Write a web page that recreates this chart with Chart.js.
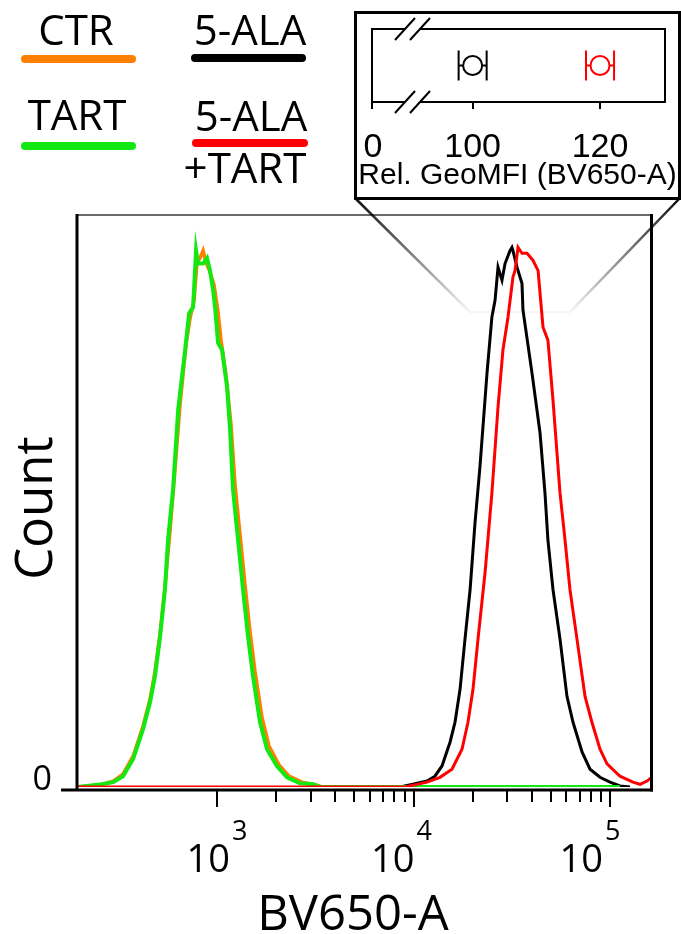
<!DOCTYPE html>
<html>
<head>
<meta charset="utf-8">
<script src="https://cdn.jsdelivr.net/npm/chart.js@4.4.0/dist/chart.umd.min.js"></script>
<style>
  body { margin: 0; background: #fff; }
  #wrap { position: relative; width: 681px; height: 934px; }
  #inset { position: absolute; left: 354px; top: 11px; width: 321px; height: 183px; border: 3px solid #000; background: #fff; }
  canvas { display: block; }
</style>
</head>
<body>
<div id="wrap">
  <canvas id="histChart" width="681" height="934"></canvas>
  <div id="inset"><canvas id="insetChart" width="321" height="183"></canvas></div>
</div>
<script>
// BV650-A intensity (x) and count, % of mode (y)
const ctrX = [196, 254, 296, 332, 374, 420, 456, 483, 513, 543, 577, 611, 648, 695, 729, 764, 791, 819, 849, 879,
  921, 966, 1012, 1048, 1111, 1178, 1235, 1309, 1388, 1472, 1561, 1694, 1839, 2068, 2324, 2708, 3190, 3421, 112000];
const ctrCount = [0, 0.4, 1.1, 2.4, 5.7, 11.3, 16.3, 21.4, 28.5, 37.0, 47.7, 58.8, 70.8, 81.9, 86.9, 90.2, 97.2, 98.0, 99.4, 97.2,
  95.4, 93.0, 88.0, 82.8, 76.3, 67.1, 56.0, 46.8, 37.5, 28.8, 21.4, 12.9, 7.6, 4.1, 2.0, 0.9, 0.4, 0, 0];

const tartX = [196, 260, 296, 332, 374, 420, 456, 483, 513, 543, 563, 597, 634, 688, 721, 755, 782, 800, 849, 889,
  921, 955, 977, 1012, 1060, 1125, 1165, 1206, 1279, 1356, 1438, 1525, 1655, 1796, 2019, 2271, 2644, 3081, 3343, 112000];
const tartCount = [0, 0.5, 0.9, 2.0, 5.2, 10.7, 15.7, 20.5, 27.9, 36.6, 45.8, 55.1, 69.9, 81.0, 87.8, 88.9, 99.4, 97.0, 97.0, 98.0,
  95.7, 92.1, 88.9, 82.3, 81.0, 74.1, 66.2, 55.1, 45.8, 36.6, 27.9, 20.5, 12.0, 7.0, 3.9, 1.8, 0.7, 0.5, 0, 0];

const alaX = [8530, 9930, 11720, 12860, 13960, 15340, 16260, 17250, 18280, 19410, 20560, 21780, 23660, 25060, 26000, 26920, 28200, 29230, 30970, 31700,
  32070, 33650, 35650, 36060, 40090, 44050, 46670, 48310, 51270, 55670, 60390, 64840, 72060, 79160, 88970, 100000, 112400, 126400];
const alaCount = [0, 0.5, 1.1, 2.0, 3.9, 8.3, 12.0, 18.1, 27.4, 36.6, 49.0, 59.3, 76.7, 87.1, 90.2, 96.3, 93.9, 97.0, 99.4, 100,
  99.4, 96.3, 93.3, 88.4, 76.7, 65.6, 54.5, 45.8, 36.6, 27.4, 16.8, 12.0, 6.5, 3.3, 1.8, 0.9, 0.2, 0];

const alaTartX = [196, 9060, 11720, 13640, 15700, 17650, 18930, 20080, 21290, 23120, 25060, 26920, 28520, 30270, 32070, 32850, 34030, 35650, 37830, 40550,
  43050, 45610, 48310, 51270, 55670, 59020, 62550, 67920, 74640, 80910, 88970, 96600, 112400, 130900, 142200, 154300, 161700];
const alaTartCount = [0, 0, 0.9, 1.8, 3.3, 7.0, 12.0, 18.1, 27.4, 39.7, 54.5, 70.4, 81.0, 87.1, 94.5, 95.7, 100, 98.9, 98.9, 97.6,
  95.7, 85.2, 82.8, 71.7, 54.5, 45.8, 36.6, 27.4, 16.8, 12.0, 7.0, 4.3, 2.0, 0.9, 0.5, 1.1, 1.7];

const xMin = 196, xMax = 161700, yMax = 106;
const majorTicks = [1000, 10000, 100000];
const majorExp = ['3', '4', '5'];
const minorTicks = [2000, 3000, 4000, 5000, 6000, 7000, 8000, 9000,
  20000, 30000, 40000, 50000, 60000, 70000, 80000, 90000];

const legendLabels = [['CTR'], ['TART'], ['5-ALA'], ['5-ALA', '+TART']];

// inset: relative geometric MFI
const insetGroups = ['5-ALA', '5-ALA+TART'];
const insetMean = [100, 120];
const insetLow = [97.8, 117.8];
const insetHigh = [102.2, 122.2];
const insetTickValues = [84.2, 100, 120];   // first one stands for the broken "0"
const insetTickLabels = ['0', '100', '120'];
const insetMax = 130.2;

// region of the histogram the inset zooms onto
const zoomFrom = [19400, 62500];
const zoomCount = 88;

const ORANGE = '#ff8000', GREEN = '#12e812', BLACK = '#000000', RED = '#ff0000';
const legendColors = [ORANGE, GREEN, BLACK, RED];
const FONT = '"Open Sans", "Noto Sans", sans-serif';

// label placement tweaks (px), not data
const labelShift = [0, -12, -20];
const legendLayout = [
  { cx: 76, base: 45, ly: 59, x0: 25, x1: 132 },
  { cx: 77, base: 130, ly: 146, x0: 25, x1: 132 },
  { cx: 250, base: 45, ly: 58, x0: 195, x1: 302 },
  { cx: 251, base: 131, ly: 143, x0: 196, x1: 304, cx2: 245, base2: 183 }
];

function seg(ctx, x0, y0, x1, y1) {
  ctx.beginPath();
  ctx.moveTo(x0, y0);
  ctx.lineTo(x1, y1);
  ctx.stroke();
}

const histDecor = {
  id: 'histDecor',
  afterDraw(chart) {
    const { ctx, chartArea: a } = chart;
    const x = chart.scales.x, y = chart.scales.y;
    const axisY = y.getPixelForValue(0) + 3;
    ctx.save();

    // frame
    ctx.lineCap = 'butt';
    ctx.strokeStyle = '#6a6a6a';
    ctx.lineWidth = 2;
    seg(ctx, a.left - 2, a.top, a.right + 2, a.top);
    ctx.strokeStyle = '#000';
    ctx.lineWidth = 3;
    seg(ctx, a.left - 1, a.top - 1, a.left - 1, axisY);
    seg(ctx, a.right + 0.5, a.top - 1, a.right + 0.5, axisY + 1.5);
    seg(ctx, a.left - 17, axisY, a.right + 2, axisY);

    // x ticks
    ctx.lineWidth = 2;
    majorTicks.forEach(v => {
      const px = Math.round(x.getPixelForValue(v));
      seg(ctx, px, axisY, px, axisY + 17);
    });
    minorTicks.forEach(v => {
      const px = Math.round(x.getPixelForValue(v));
      seg(ctx, px, axisY, px, axisY + 12);
    });

    // x tick labels 10^n
    ctx.fillStyle = '#000';
    ctx.textBaseline = 'alphabetic';
    ctx.textAlign = 'left';
    majorTicks.forEach((v, i) => {
      const px = x.getPixelForValue(v) + labelShift[i];
      ctx.font = '38px ' + FONT;
      const wBase = ctx.measureText('10').width;
      ctx.font = '27px ' + FONT;
      const wExp = ctx.measureText(majorExp[i]).width;
      const left = px - (wBase + 2 + wExp) / 2;
      ctx.font = '38px ' + FONT;
      ctx.fillText('10', left, 871.5);
      ctx.font = '27px ' + FONT;
      ctx.fillText(majorExp[i], left + wBase + 2, 840);
    });

    // y tick label
    ctx.font = '34px ' + FONT;
    ctx.textAlign = 'right';
    ctx.fillText('0', 52, axisY);

    // axis titles
    ctx.textAlign = 'center';
    ctx.font = '49px ' + FONT;
    ctx.fillText('BV650-A', 353, 930);
    ctx.save();
    ctx.translate(52, 508);
    ctx.rotate(-Math.PI / 2);
    ctx.font = '51px ' + FONT;
    ctx.fillText('Count', 0, 0);
    ctx.restore();

    // legend
    ctx.font = '42px ' + FONT;
    ctx.lineCap = 'round';
    ctx.lineWidth = 8;
    legendLabels.forEach((lines, i) => {
      const L = legendLayout[i];
      ctx.fillStyle = '#000';
      ctx.fillText(lines[0], L.cx, L.base);
      if (lines[1]) ctx.fillText(lines[1], L.cx2, L.base2);
      ctx.strokeStyle = legendColors[i];
      seg(ctx, L.x0, L.ly, L.x1, L.ly);
    });

    // zoom lines from the inset box to the peaks
    const box = document.getElementById('inset');
    const bx0 = box.offsetLeft + 1.5;
    const bx1 = box.offsetLeft + box.offsetWidth - 1.5;
    const by = box.offsetTop + box.offsetHeight - 1.5;
    const tx0 = x.getPixelForValue(zoomFrom[0]);
    const tx1 = x.getPixelForValue(zoomFrom[1]);
    const ty = y.getPixelForValue(zoomCount);
    const grad = ctx.createLinearGradient(0, by, 0, ty);
    grad.addColorStop(0, 'rgba(0,0,0,0.95)');
    grad.addColorStop(1, 'rgba(0,0,0,0.03)');
    ctx.strokeStyle = grad;
    ctx.lineWidth = 2.5;
    ctx.lineCap = 'butt';
    seg(ctx, bx0, by, tx0, ty);
    seg(ctx, bx1, by, tx1, ty);
    ctx.strokeStyle = 'rgba(0,0,0,0.04)';
    ctx.lineWidth = 2;
    seg(ctx, tx0, ty, tx1, ty);

    ctx.restore();
  }
};

// first dataset is painted last (on top)
const series = [
  { label: '5-ALA+TART', xs: alaTartX, ys: alaTartCount, color: RED, width: 3 },
  { label: 'TART', xs: tartX, ys: tartCount, color: GREEN, width: 4 },
  { label: 'CTR', xs: ctrX, ys: ctrCount, color: ORANGE, width: 3.5 },
  { label: '5-ALA', xs: alaX, ys: alaCount, color: BLACK, width: 3 }
];

new Chart(document.getElementById('histChart'), {
  type: 'line',
  data: {
    datasets: series.map(s => ({
      label: s.label,
      data: s.xs.map((v, i) => ({ x: v, y: s.ys[i] })),
      borderColor: s.color,
      backgroundColor: s.color,
      borderWidth: s.width,
      pointRadius: 0,
      tension: 0,
      fill: false
    }))
  },
  options: {
    responsive: false,
    animation: false,
    devicePixelRatio: 1,
    layout: { padding: { left: 78, right: 30, top: 215, bottom: 147 } },
    plugins: { legend: { display: false }, tooltip: { enabled: false } },
    scales: {
      x: { type: 'logarithmic', min: xMin, max: xMax, display: false },
      y: { type: 'linear', min: 0, max: yMax, display: false }
    }
  },
  plugins: [histDecor]
});

const insetDecor = {
  id: 'insetDecor',
  beforeDatasetsDraw(chart) {
    const { ctx } = chart;
    const x = chart.scales.x, y = chart.scales.y;
    ctx.save();
    ctx.lineWidth = 2;
    insetGroups.forEach((g, i) => {
      const col = chart.data.datasets[i].borderColor;
      const py = y.getPixelForValue(0);
      const lo = x.getPixelForValue(insetLow[i]);
      const hi = x.getPixelForValue(insetHigh[i]);
      ctx.strokeStyle = col;
      seg(ctx, lo, py, hi, py);
      seg(ctx, lo, py - 15, lo, py + 15);
      seg(ctx, hi, py - 15, hi, py + 15);
    });
    ctx.restore();
  },
  afterDraw(chart) {
    const { ctx, chartArea: a } = chart;
    const x = chart.scales.x;
    ctx.save();
    ctx.strokeStyle = '#000';
    ctx.lineWidth = 2;
    ctx.beginPath();
    ctx.moveTo(a.left, a.bottom + 7);
    ctx.lineTo(a.left, a.top);
    ctx.lineTo(a.right, a.top);
    ctx.lineTo(a.right, a.bottom);
    ctx.lineTo(a.left, a.bottom);
    ctx.stroke();

    // ticks
    insetTickValues.forEach(v => {
      const px = Math.round(x.getPixelForValue(v));
      seg(ctx, px, a.bottom, px, a.bottom + 7);
    });

    // axis break marks
    [a.top, a.bottom].forEach(ly => {
      const c1 = a.left + 33, c2 = a.left + 48;
      ctx.fillStyle = '#fff';
      ctx.fillRect(c1, ly - 2, c2 - c1, 4);
      ctx.strokeStyle = '#000';
      ctx.lineWidth = 2;
      seg(ctx, c1 - 10, ly + 11, c1 + 10, ly - 11);
      seg(ctx, c2 - 10, ly + 11, c2 + 10, ly - 11);
    });

    // labels
    ctx.fillStyle = '#000';
    ctx.textAlign = 'center';
    ctx.textBaseline = 'alphabetic';
    ctx.font = '34px "Liberation Sans", Arial, sans-serif';
    insetTickValues.forEach((v, i) => {
      ctx.fillText(insetTickLabels[i], x.getPixelForValue(v) + (i === 0 ? 1 : 0), 143);
    });
    ctx.font = '30px "Liberation Sans", Arial, sans-serif';
    ctx.fillText('Rel. GeoMFI (BV650-A)', chart.width / 2, 169.5);
    ctx.restore();
  }
};

new Chart(document.getElementById('insetChart'), {
  type: 'scatter',
  data: {
    datasets: insetGroups.map((g, i) => ({
      label: g,
      data: [{ x: insetMean[i], y: 0 }],
      borderColor: i === 0 ? BLACK : RED,
      backgroundColor: '#fff',
      borderWidth: 2,
      pointRadius: 9.5,
      pointHoverRadius: 9.5
    }))
  },
  options: {
    responsive: false,
    animation: false,
    devicePixelRatio: 1,
    layout: { padding: { left: 15, right: 13, top: 15, bottom: 95 } },
    plugins: { legend: { display: false }, tooltip: { enabled: false } },
    scales: {
      x: { type: 'linear', min: insetTickValues[0], max: insetMax, display: false },
      y: { type: 'linear', min: -1, max: 1, display: false }
    }
  },
  plugins: [insetDecor]
});
</script>
</body>
</html>
